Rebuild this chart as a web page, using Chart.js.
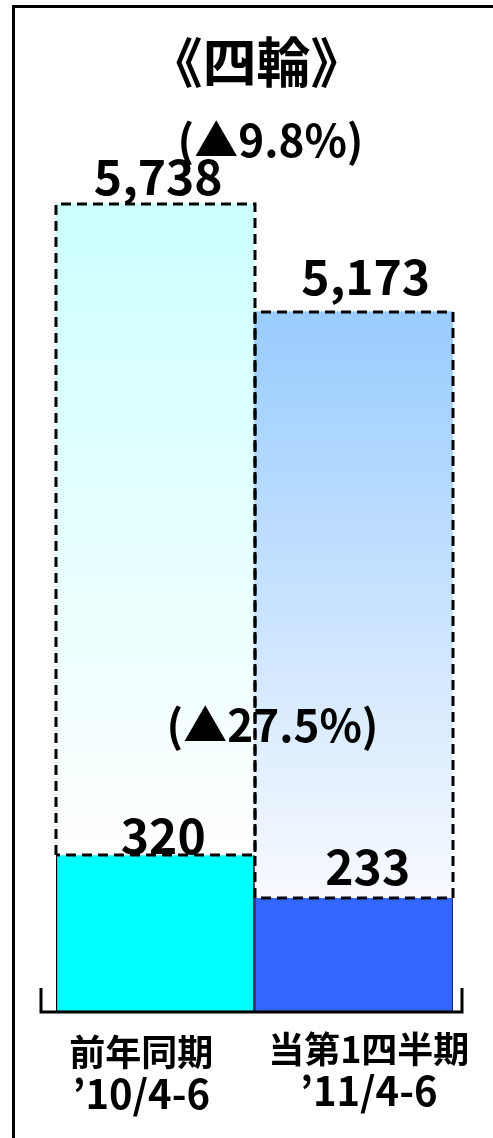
<!DOCTYPE html>
<html>
<head>
<meta charset="utf-8">
<script src="https://cdn.jsdelivr.net/npm/chart.js@4/dist/chart.umd.min.js"></script>
<style>
  html, body { margin: 0; padding: 0; background: #fff; }
  #wrap { position: relative; width: 493px; height: 1138px; overflow: hidden; }
  #frame { position: absolute; left: 12px; top: 5px; right: -10px; bottom: -10px;
           border-left: 3px solid #000; border-top: 3px solid #000; pointer-events: none; }
</style>
</head>
<body>
<div id="wrap">
  <canvas id="chart" width="493" height="1138"></canvas>
  <div id="frame"></div>
</div>
<script>
// data
const categories = [['前年同期', '’10/4-6'], ['当第1四半期', '’11/4-6']];
const totalUnits = [5738, 5173];      // upper (dashed) bars
const profitUnits = [320, 233];       // lower (solid) bars
const changeLabels = ['(▲9.8%)', '(▲27.5%)'];
const title = '《四輪》';

const topColors = ['#ccffff', '#99ccff'];
const bottomColors = ['#ffffff', '#f8faff'];
const solidColors = ['#00ffff', '#3366ff'];
const solidBorders = ['#000000', '#1a2a80'];

const FONT = '"Noto Sans CJK JP", "Liberation Sans", sans-serif';

function fmt(v) { return v.toLocaleString('en-US'); }

function gradientFill(context) {
    const chart = context.chart;
    const i = context.dataIndex;
    if (!chart.chartArea || !chart.scales.yBig) return topColors[i];
    const top = chart.scales.yBig.getPixelForValue(totalUnits[i]);
    const bottom = chart.scales.ySmall.getPixelForValue(profitUnits[i]);
    const g = chart.ctx.createLinearGradient(0, top, 0, bottom);
    g.addColorStop(0, topColors[i]);
    g.addColorStop(1, bottomColors[i]);
    return g;
}

const decorations = {
    id: 'decorations',
    afterDatasetsDraw(chart) {
        const { ctx, chartArea } = chart;
        const small = chart.getDatasetMeta(0).data;
        const big = chart.getDatasetMeta(1).data;
        ctx.save();

        // dashed outline of the upper part of each bar
        ctx.strokeStyle = '#000';
        ctx.lineWidth = 3;
        ctx.setLineDash([10, 6]);
        big.forEach((b, i) => {
            const l = Math.round(b.x - b.width / 2);
            const r = Math.round(b.x + b.width / 2);
            const t = Math.round(b.y), bt = Math.round(small[i].y);
            ctx.beginPath();
            ctx.moveTo(l, bt);
            ctx.lineTo(l, t);
            ctx.lineTo(r, t);
            ctx.lineTo(r, bt);
            ctx.lineTo(l, bt);
            ctx.stroke();
        });
        ctx.setLineDash([]);

        // axis line with end ticks
        const axL = chartArea.left - 15;
        const axR = chartArea.right + 9;
        ctx.lineWidth = 3;
        ctx.beginPath();
        ctx.moveTo(axL, chartArea.bottom - 24);
        ctx.lineTo(axL, chartArea.bottom);
        ctx.lineTo(axR, chartArea.bottom);
        ctx.lineTo(axR, chartArea.bottom - 24);
        ctx.stroke();

        // value labels
        ctx.fillStyle = '#000';
        ctx.textAlign = 'center';
        ctx.textBaseline = 'middle';
        ctx.font = 'bold 48px ' + FONT;
        const bigNudge = [[3, -27], [12, -35]];
        const smallNudge = [[8, -20], [14, -31]];
        big.forEach((b, i) => {
            ctx.fillText(fmt(totalUnits[i]), b.x + bigNudge[i][0], b.y + bigNudge[i][1]);
        });
        small.forEach((s, i) => {
            ctx.fillText(fmt(profitUnits[i]), s.x + smallNudge[i][0], s.y + smallNudge[i][1]);
        });

        // change labels, centred near the boundary between the bars
        const mid = (big[0].x + big[1].x) / 2;
        ctx.font = 'bold 44px ' + FONT;
        ctx.fillText(changeLabels[0], mid + 16, big[0].y - 64);
        ctx.fillText(changeLabels[1], mid + 18, small[0].y - 130);

        // title
        ctx.font = 'bold 54px ' + FONT;
        ctx.fillText(title, mid + 2, 62);

        // category labels
        const catNudge = [-14, 15];
        categories.forEach((lines, i) => {
            const x = chart.scales.x.getPixelForValue(i) + catNudge[i];
            ctx.font = 'bold 36px ' + FONT;
            ctx.fillText(lines[0], x, chartArea.bottom + 40 - i * 3);
            ctx.font = 'bold 40px ' + FONT;
            ctx.fillText(lines[1], x, chartArea.bottom + 82 - i * 3);
        });
        ctx.restore();
    }
};

new Chart(document.getElementById('chart').getContext('2d'), {
    type: 'bar',
    data: {
        labels: categories,
        datasets: [
            {
                label: 'small',
                data: profitUnits,
                yAxisID: 'ySmall',
                backgroundColor: solidColors,
                borderColor: solidBorders,
                borderWidth: 1.5,
                borderSkipped: 'top',
                grouped: false,
                barPercentage: 1,
                categoryPercentage: 1,
                order: 0
            },
            {
                label: 'total',
                data: totalUnits,
                yAxisID: 'yBig',
                backgroundColor: gradientFill,
                borderWidth: 0,
                grouped: false,
                barPercentage: 1,
                categoryPercentage: 1,
                order: 1
            }
        ]
    },
    options: {
        responsive: false,
        animation: false,
        layout: { padding: { left: 56, right: 40, top: 150, bottom: 126 } },
        plugins: { legend: { display: false }, tooltip: { enabled: false } },
        scales: {
            x: { display: false, grid: { display: false } },
            ySmall: { display: false, min: 0, max: 1761 },
            yBig: { display: false, min: 1500, max: 6021 }
        }
    },
    plugins: [decorations]
});
</script>
</body>
</html>
